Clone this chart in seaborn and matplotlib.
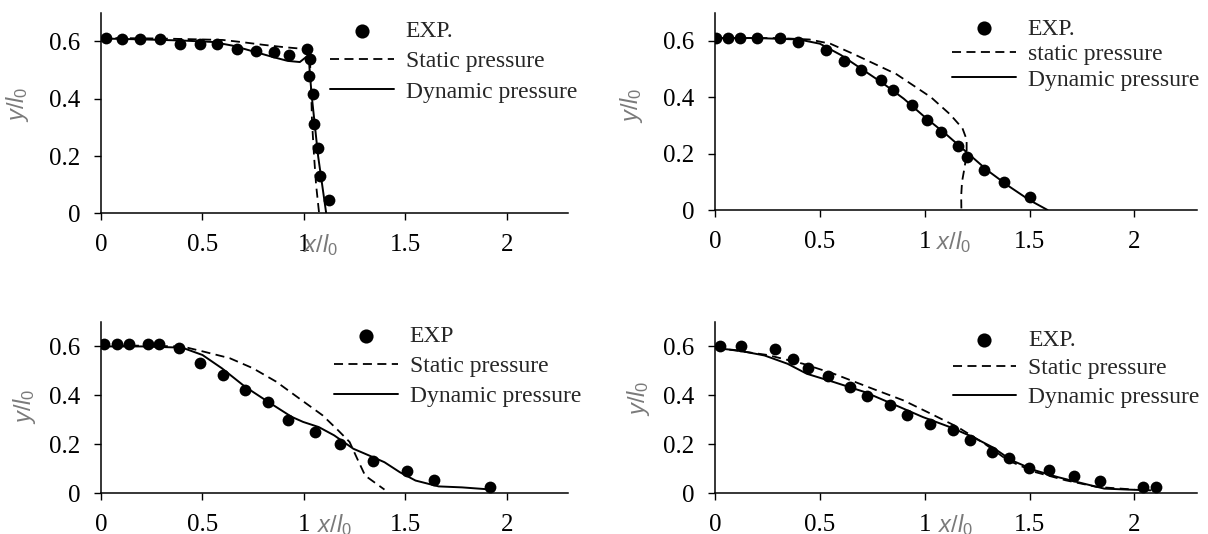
import numpy as np
import pandas as pd
import matplotlib
matplotlib.use("Agg")
import matplotlib.pyplot as plt
import seaborn as sns

# ---------------- data ----------------
# Panel 1 (top-left)
p1_exp_x = [0.025, 0.105, 0.194, 0.291, 0.39, 0.49, 0.573, 0.67, 0.764, 0.851, 0.928, 1.013, 1.03, 1.025, 1.044, 1.051, 1.069, 1.08, 1.126]
p1_exp_y = [0.612, 0.609, 0.609, 0.609, 0.591, 0.591, 0.591, 0.573, 0.565, 0.563, 0.552, 0.573, 0.539, 0.478, 0.418, 0.312, 0.227, 0.132, 0.046]
p1_dyn_x = [0, 0.2, 0.4, 0.55, 0.65, 0.75, 0.85, 0.92, 0.98, 1.01, 1.025, 1.03, 1.04, 1.055, 1.07, 1.09, 1.11]
p1_dyn_y = [0.61, 0.607, 0.603, 0.598, 0.585, 0.565, 0.545, 0.532, 0.528, 0.545, 0.535, 0.48, 0.40, 0.30, 0.20, 0.10, 0.0]
p1_sta_x = [0, 0.3, 0.6, 0.7, 0.8, 0.9, 0.98, 1.02, 1.03, 1.035, 1.04, 1.05, 1.06, 1.075]
p1_sta_y = [0.612, 0.61, 0.605, 0.597, 0.588, 0.58, 0.575, 0.57, 0.53, 0.45, 0.32, 0.2, 0.1, 0.0]

# Panel 2 (top-right)
p2_exp_x = [0.004, 0.064, 0.121, 0.202, 0.309, 0.397, 0.53, 0.615, 0.695, 0.791, 0.848, 0.94, 1.012, 1.08, 1.161, 1.2, 1.284, 1.38, 1.5]
p2_exp_y = [0.612, 0.612, 0.612, 0.612, 0.612, 0.596, 0.568, 0.529, 0.496, 0.461, 0.425, 0.372, 0.319, 0.275, 0.228, 0.189, 0.142, 0.098, 0.045]
p2_dyn_x = [0, 0.2, 0.4, 0.5, 0.6, 0.7, 0.8, 0.9, 1.0, 1.1, 1.2, 1.3, 1.4, 1.5, 1.586]
p2_dyn_y = [0.61, 0.61, 0.605, 0.59, 0.55, 0.5, 0.45, 0.395, 0.33, 0.27, 0.205, 0.14, 0.085, 0.035, 0.0]
p2_sta_x = [0, 0.3, 0.45, 0.55, 0.662, 0.865, 1.03, 1.12, 1.18, 1.2, 1.2, 1.19, 1.178, 1.174, 1.175]
p2_sta_y = [0.61, 0.61, 0.605, 0.59, 0.553, 0.482, 0.40, 0.34, 0.29, 0.25, 0.2, 0.15, 0.1, 0.05, 0.0]

# Panel 3 (bottom-left)
p3_exp_x = [0.013, 0.08, 0.137, 0.233, 0.286, 0.382, 0.49, 0.599, 0.71, 0.821, 0.924, 1.053, 1.176, 1.34, 1.506, 1.641, 1.916]
p3_exp_y = [0.61, 0.61, 0.61, 0.61, 0.61, 0.593, 0.534, 0.483, 0.422, 0.373, 0.298, 0.25, 0.202, 0.129, 0.092, 0.055, 0.023]
p3_dyn_x = [0, 0.2, 0.4, 0.5, 0.595, 0.71, 0.824, 0.939, 0.996, 1.073, 1.149, 1.244, 1.32, 1.397, 1.473, 1.55, 1.664, 1.779, 1.893]
p3_dyn_y = [0.6, 0.6, 0.595, 0.565, 0.511, 0.435, 0.373, 0.312, 0.291, 0.27, 0.236, 0.181, 0.154, 0.126, 0.085, 0.051, 0.027, 0.023, 0.016]
p3_sta_x = [0, 0.2, 0.4, 0.5, 0.634, 0.748, 0.863, 0.977, 1.092, 1.168, 1.225, 1.263, 1.302, 1.397]
p3_sta_y = [0.605, 0.603, 0.6, 0.58, 0.552, 0.511, 0.456, 0.387, 0.318, 0.257, 0.209, 0.14, 0.071, 0.014]

# Panel 4 (bottom-right)
p4_exp_x = [0.024, 0.122, 0.284, 0.374, 0.444, 0.54, 0.646, 0.727, 0.834, 0.917, 1.024, 1.133, 1.217, 1.322, 1.4, 1.497, 1.593, 1.713, 1.838, 2.04, 2.105]
p4_exp_y = [0.6, 0.6, 0.588, 0.55, 0.513, 0.477, 0.434, 0.396, 0.359, 0.32, 0.284, 0.256, 0.218, 0.166, 0.143, 0.102, 0.093, 0.068, 0.048, 0.025, 0.025]
p4_dyn_x = [0, 0.107, 0.236, 0.346, 0.438, 0.567, 0.715, 0.862, 0.991, 1.12, 1.23, 1.322, 1.414, 1.525, 1.635, 1.746, 1.856, 1.967, 2.077]
p4_dyn_y = [0.593, 0.584, 0.563, 0.529, 0.488, 0.454, 0.413, 0.359, 0.311, 0.27, 0.229, 0.188, 0.134, 0.093, 0.065, 0.041, 0.018, 0.014, 0.011]
p4_sta_x = [0, 0.25, 0.42, 0.567, 0.751, 0.899, 1.028, 1.157, 1.285, 1.396, 1.525, 1.672, 1.82, 2.0]
p4_sta_y = [0.595, 0.565, 0.529, 0.488, 0.427, 0.379, 0.325, 0.27, 0.202, 0.134, 0.086, 0.052, 0.025, 0.014]

legend_labels = [
    ["EXP.", "Static pressure", "Dynamic pressure"],
    ["EXP.", "static pressure", "Dynamic pressure"],
    ["EXP", "Static pressure", "Dynamic pressure"],
    ["EXP.", "Static pressure", "Dynamic pressure"],
]
x_ticks = [0, 0.5, 1, 1.5, 2]
x_ticklabels = ["0", "0.5", "1", "1.5", "2"]
y_ticks = [0, 0.2, 0.4, 0.6]
y_ticklabels = ["0", "0.2", "0.4", "0.6"]

# ---------------- style ----------------
sns.set_style("ticks")
plt.rcParams["font.family"] = ["Liberation Serif", "DejaVu Serif"]
plt.rcParams["mathtext.fontset"] = "custom"
plt.rcParams["mathtext.it"] = "Liberation Sans:italic"
plt.rcParams["mathtext.rm"] = "Liberation Sans"

W, H = 1208, 534
fig = plt.figure(figsize=(W / 100, H / 100), dpi=100)

# axes boxes in pixels: left, right, top, bottom
boxes = [
    (101, 567.7, 12.7, 213.5),
    (715, 1197.3, 12.7, 210),
    (101, 567.7, 322, 493),
    (715, 1197.3, 322, 493),
]
# legend: handle-left x, middle-row y (pixels), labelspacing
leg_pos = [(330, 61.7, 0.37), (952, 54.4, 0.17), (334, 366.5, 0.36), (952.6, 368.7, 0.29)]
xlab_x = [1.08, 1.14, 1.15, 1.146]
ylab = [(-84, 0.545), (-84, 0.53), (-77, 0.51), (-77, 0.556)]

panels = [
    (p1_exp_x, p1_exp_y, p1_sta_x, p1_sta_y, p1_dyn_x, p1_dyn_y),
    (p2_exp_x, p2_exp_y, p2_sta_x, p2_sta_y, p2_dyn_x, p2_dyn_y),
    (p3_exp_x, p3_exp_y, p3_sta_x, p3_sta_y, p3_dyn_x, p3_dyn_y),
    (p4_exp_x, p4_exp_y, p4_sta_x, p4_sta_y, p4_dyn_x, p4_dyn_y),
]

TICK_FS = 18
LEG_FS = 17
GRAY = "#7a7a7a"

for i, (ex, ey, sx, sy, dx, dy) in enumerate(panels):
    l, r, t, b = boxes[i]
    ax = fig.add_axes([l / W, 1 - b / H, (r - l) / W, (b - t) / H])
    sns.lineplot(x=sx, y=sy, ax=ax, sort=False, estimator=None, color="black",
                 lw=1.3, linestyle=(0, (5, 3)), label=legend_labels[i][1], zorder=2)
    sns.lineplot(x=dx, y=dy, ax=ax, sort=False, estimator=None, color="black",
                 lw=1.4, label=legend_labels[i][2], zorder=2)
    sns.scatterplot(x=ex, y=ey, ax=ax, color="black", s=72, linewidth=0,
                    label=legend_labels[i][0], zorder=3)

    ax.set_xlim(0, 2.3)
    ax.set_ylim(0, 0.7)
    ax.set_xticks(x_ticks)
    ax.set_xticklabels(x_ticklabels)
    ax.set_yticks(y_ticks)
    ax.set_yticklabels(y_ticklabels)
    ax.tick_params(axis="both", direction="out", length=4.8, width=1.0,
                   labelsize=TICK_FS, colors="black")
    ax.tick_params(axis="x", pad=10)
    ax.tick_params(axis="y", pad=10)
    sns.despine(ax=ax)
    for sp in ["left", "bottom"]:
        ax.spines[sp].set_linewidth(1.1)
        ax.spines[sp].set_color("black")
    ax.set_xlabel("")
    ax.set_ylabel("")

    # axis labels (gray, sans italic)
    ax.annotate(r"$\mathit{x/l_0}$", xy=(xlab_x[i], 0), xycoords=("data", "axes fraction"),
                xytext=(0, -28), textcoords="offset points", ha="center", va="baseline",
                fontsize=17, color=GRAY, annotation_clip=False)
    ox, fy = ylab[i]
    ax.annotate(r"$\mathit{y/l_0}$", xy=(0, fy), xycoords="axes fraction",
                xytext=(ox * 0.72, 0), textcoords="offset points", ha="center", va="center",
                rotation=90, fontsize=17, color=GRAY, annotation_clip=False)

    # legend
    handles, labels = ax.get_legend_handles_labels()
    order = [labels.index(legend_labels[i][k]) for k in range(3)]
    hx, hy, ls = leg_pos[i]
    ax.legend([handles[k] for k in order], [labels[k] for k in order],
              loc="center left", bbox_to_anchor=(hx / W, 1 - hy / H),
              bbox_transform=fig.transFigure, frameon=False, fontsize=LEG_FS,
              borderpad=0, borderaxespad=0, handlelength=2.7, handletextpad=0.5,
              labelspacing=ls, markerscale=1.2, scatterpoints=1, numpoints=1)

fig.savefig("out.png", dpi=100)
